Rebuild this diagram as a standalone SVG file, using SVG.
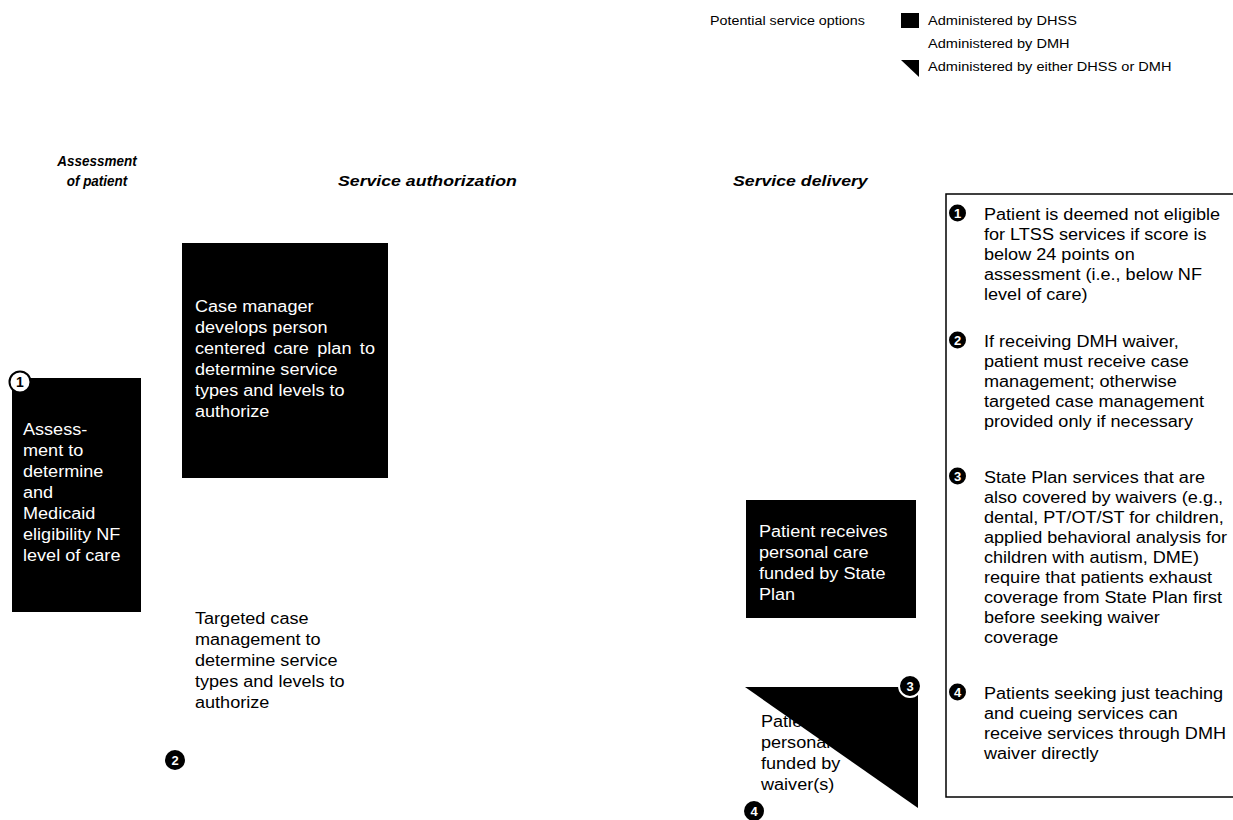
<svg xmlns="http://www.w3.org/2000/svg" width="1233" height="820" viewBox="0 0 1233 820">
<style>
text{font-family:"Liberation Sans",Arial,sans-serif;}
.t{font-size:16px;fill:#000;}
.w{font-size:16px;fill:#fff;}
.h{font-size:15px;font-weight:bold;font-style:italic;fill:#000;}
.lg{font-size:13px;fill:#000;}
.blk{fill:#000;}
.conn{stroke:#fff;stroke-width:1;fill:none;}
.bn{font-size:13px;font-weight:bold;fill:#fff;text-anchor:middle;}
.bnk{font-size:14px;font-weight:bold;fill:#000;text-anchor:middle;}
</style>
<rect width="1233" height="820" fill="#fff"/>

<g id="legend">
<g transform="translate(710,0) scale(1.1,1)"><text class="lg" x="0" y="25">Potential service options</text></g>
<rect class="blk" x="901" y="13" width="18" height="15"/>
<g transform="translate(928,0) scale(1.12,1)">
<text class="lg" x="0" y="25">Administered by DHSS</text>
<text class="lg" x="0" y="48">Administered by DMH</text>
<text class="lg" x="0" y="71">Administered by either DHSS or DMH</text>
</g>
<polygon class="blk" points="901,60 919,60 919,77"/>
</g>

<g id="headers">
<g transform="translate(97,0) scale(0.9,1)">
<text class="h" x="0" y="166" text-anchor="middle">Assessment</text>
<text class="h" x="0" y="186" text-anchor="middle">of patient</text>
</g>
<g transform="translate(338,0) scale(1.18,1)"><text class="h" x="0" y="186">Service authorization</text></g>
<g transform="translate(733,0) scale(1.18,1)"><text class="h" x="0" y="186">Service delivery</text></g>
</g>

<g id="connectors">
<path class="conn" d="M140,494 L161,494 L161,360 L182,360"/>
<path class="conn" d="M388,360 L746,560"/>
<path class="conn" d="M285,243 L285,230"/>
</g>

<g id="assessment">
<rect class="blk" x="12" y="378" width="129" height="234"/>
<g transform="translate(23,0) scale(1.13,1)">
<text class="w" x="0" y="435">Assess-</text>
<text class="w" x="0" y="456">ment to</text>
<text class="w" x="0" y="477">determine</text>
<text class="w" x="0" y="498">and</text>
<text class="w" x="0" y="519">Medicaid</text>
<text class="w" x="0" y="540">eligibility NF</text>
<text class="w" x="0" y="561">level of care</text>
</g>
<circle cx="20" cy="382" r="10.5" fill="#fff" stroke="#000" stroke-width="2"/>
<text class="bnk" x="20" y="387">1</text>
</g>

<g id="case-manager">
<rect class="blk" x="182" y="243" width="206" height="235"/>
<g transform="translate(195,0) scale(1.13,1)">
<text class="w" x="0" y="312">Case manager</text>
<text class="w" x="0" y="333">develops person</text>
<text class="w" x="0" y="354" word-spacing="3">centered care plan to</text>
<text class="w" x="0" y="375">determine service</text>
<text class="w" x="0" y="396">types and levels to</text>
<text class="w" x="0" y="417">authorize</text>
</g>
</g>

<g id="targeted-case-management">
<g transform="translate(195,0) scale(1.13,1)">
<text class="t" x="0" y="624">Targeted case</text>
<text class="t" x="0" y="645">management to</text>
<text class="t" x="0" y="666">determine service</text>
<text class="t" x="0" y="687">types and levels to</text>
<text class="t" x="0" y="708">authorize</text>
</g>
<circle cx="175" cy="760" r="10" fill="#000"/>
<text class="bn" x="175" y="765">2</text>
</g>

<g id="state-plan-care">
<rect class="blk" x="746" y="500" width="170" height="118"/>
<g transform="translate(759,0) scale(1.13,1)">
<text class="w" x="0" y="537">Patient receives</text>
<text class="w" x="0" y="558">personal care</text>
<text class="w" x="0" y="579">funded by State</text>
<text class="w" x="0" y="600">Plan</text>
</g>
</g>

<g id="waiver-care">
<g transform="translate(761,0) scale(1.13,1)">
<text class="t" x="0" y="727">Patient receives</text>
<text class="t" x="0" y="748">personal care</text>
<text class="t" x="0" y="769">funded by</text>
<text class="t" x="0" y="790">waiver(s)</text>
</g>
<polygon class="blk" points="745,687 918,687 918,808"/>
<circle cx="910" cy="686" r="11" fill="#000" stroke="#fff" stroke-width="2"/>
<text class="bn" x="910" y="691">3</text>
<circle cx="754" cy="811" r="10" fill="#000"/>
<text class="bn" x="754" y="816">4</text>
</g>

<g id="notes">
<rect x="946" y="194" width="300" height="603" fill="#fff" stroke="#000" stroke-width="1.5"/>
<circle cx="957.5" cy="213" r="8.5" fill="#000"/>
<text class="bn" x="957.5" y="218">1</text>
<circle cx="957.5" cy="340" r="8.5" fill="#000"/>
<text class="bn" x="957.5" y="345">2</text>
<circle cx="957.5" cy="476" r="8.5" fill="#000"/>
<text class="bn" x="957.5" y="481">3</text>
<circle cx="957.5" cy="692" r="8.5" fill="#000"/>
<text class="bn" x="957.5" y="697">4</text>
<g transform="translate(984,0) scale(1.13,1)">
<text class="t" x="0" y="220">Patient is deemed not eligible</text>
<text class="t" x="0" y="240">for LTSS services if score is</text>
<text class="t" x="0" y="260">below 24 points on</text>
<text class="t" x="0" y="280">assessment (i.e., below NF</text>
<text class="t" x="0" y="300">level of care)</text>
<text class="t" x="0" y="347">If receiving DMH waiver,</text>
<text class="t" x="0" y="367">patient must receive case</text>
<text class="t" x="0" y="387">management; otherwise</text>
<text class="t" x="0" y="407">targeted case management</text>
<text class="t" x="0" y="427">provided only if necessary</text>
<text class="t" x="0" y="483">State Plan services that are</text>
<text class="t" x="0" y="503">also covered by waivers (e.g.,</text>
<text class="t" x="0" y="523">dental, PT/OT/ST for children,</text>
<text class="t" x="0" y="543">applied behavioral analysis for</text>
<text class="t" x="0" y="563">children with autism, DME)</text>
<text class="t" x="0" y="583">require that patients exhaust</text>
<text class="t" x="0" y="603">coverage from State Plan first</text>
<text class="t" x="0" y="623">before seeking waiver</text>
<text class="t" x="0" y="643">coverage</text>
<text class="t" x="0" y="699">Patients seeking just teaching</text>
<text class="t" x="0" y="719">and cueing services can</text>
<text class="t" x="0" y="739">receive services through DMH</text>
<text class="t" x="0" y="759">waiver directly</text>
</g>
</g>
</svg>
